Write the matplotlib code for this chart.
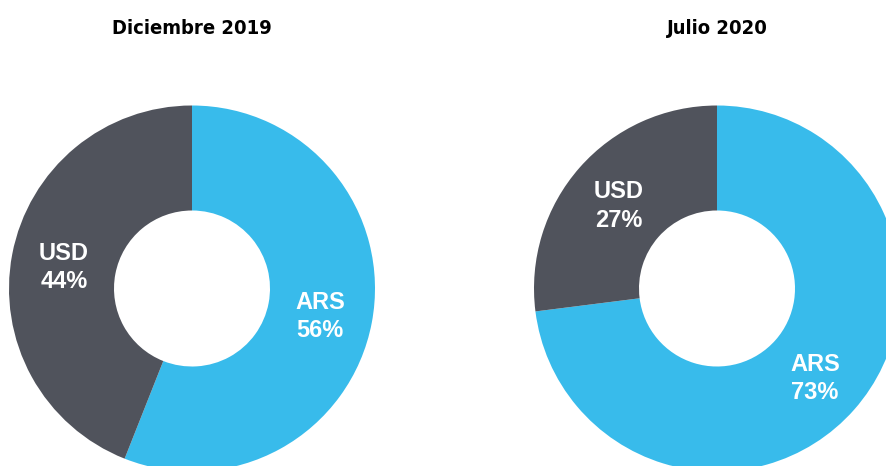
import matplotlib
matplotlib.use("Agg")
import matplotlib.pyplot as plt
import numpy as np

# data
titles = ['Diciembre 2019', 'Julio 2020']
currencies = ['ARS', 'USD']
dic_2019 = [56, 44]
jul_2020 = [73, 27]
colors = ['#38BBEB', '#50535C']

W, H = 887, 466
fig = plt.figure(figsize=(W / 100, H / 100), dpi=100)

R_OUT = 183
R_IN = 78
centers = [(192, 288.5), (717, 288.5)]

for (cx, cy), title, vals in zip(centers, titles, [dic_2019, jul_2020]):
    # axes sized so that radius 1 == R_OUT pixels
    ax = fig.add_axes([(cx - R_OUT) / W, (H - cy - R_OUT) / H, 2 * R_OUT / W, 2 * R_OUT / H])
    wedges, _ = ax.pie(vals, colors=colors, startangle=90, counterclock=False,
                       wedgeprops=dict(width=1 - R_IN / R_OUT, linewidth=0))
    ax.set_xlim(-1, 1)
    ax.set_ylim(-1, 1)
    ax.set_aspect('equal')
    ax.axis('off')

    r_mid = (1 + R_IN / R_OUT) / 2
    for w, name, v in zip(wedges, currencies, vals):
        ang = np.deg2rad((w.theta1 + w.theta2) / 2)
        ax.text(r_mid * np.cos(ang), r_mid * np.sin(ang) - 0.02, f'{name}\n{v}%',
                ha='center', va='center', color='white', fontsize=17,
                fontweight='bold', family=['Liberation Sans', 'DejaVu Sans'],
                linespacing=1.3)

    fig.text(cx / W, 1 - 28 / H, title, ha='center', va='center',
             fontsize=14.5, fontweight='bold', fontstretch='condensed', color='black',
             family=['DejaVu Sans'])

fig.savefig('out.png', dpi=100, facecolor='white')
